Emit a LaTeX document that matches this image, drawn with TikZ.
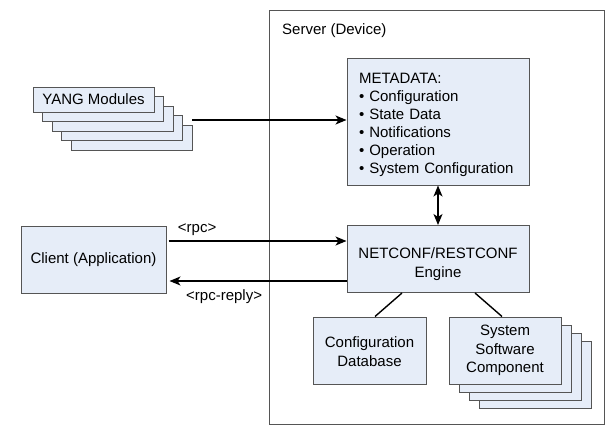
\documentclass[tikz,border=0pt]{standalone}
\usepackage{fontspec}
\setmainfont{Liberation Sans}
\usetikzlibrary{calc,arrows.meta}

\definecolor{boxfill}{HTML}{E6EDF8}
\definecolor{boxline}{HTML}{555555}

\begin{document}
\begin{tikzpicture}[x=1pt, y=-1pt, >={Stealth[length=11pt, width=9pt, inset=3pt]},
  every label/.style={font=\fontsize{15}{18}\selectfont, inner sep=0pt},
  box/.style={draw=boxline, fill=boxfill, line width=1pt, align=center,
    inner sep=0pt, font=\fontsize{15}{18}\selectfont},
  link/.style={line width=1.4pt}]

\useasboundingbox (0,0) rectangle (615,434);

% server frame
\node [draw=boxline, line width=1pt, minimum width=335pt, minimum height=414pt] (server) at (436.5,217) {};
\node [every label, anchor=west] (server-label) at (282,31) {Server (Device)};

% YANG module stack
\foreach \k in {4,3,2,1}
  \node [box, minimum width=121pt, minimum height=25pt] (yang-\k) at (93.5+\k*9.5, 99.5+\k*9.5) {};
\node [box, minimum width=121pt, minimum height=25pt] (yang-0) at (93.5,99.5) {YANG Modules};

% server contents
\node [box, minimum width=182pt, minimum height=127pt, text width=158pt, align=left] (meta) at (438,121.5)
  {\rule{0pt}{17pt}METADATA:\\ \textbullet{} Configuration\\ \textbullet{} State Data\\ \textbullet{} Notifications\\
   \textbullet{} Operation\\ \textbullet{} System Configuration};
\node [box, minimum width=182pt, minimum height=67pt, font=\fontsize{15}{19.5}\selectfont] (engine) at (438,259)
  {\rule{0pt}{21pt}NETCONF/RESTCONF\\Engine};
\node [box, minimum width=113pt, minimum height=67pt, font=\fontsize{15}{19}\selectfont] (db) at (369.5,350.5)
  {\rule{0pt}{14pt}Configuration\\Database};

\foreach \k in {3,2,1}
  \node [box, minimum width=112pt, minimum height=67pt] (ssc-\k) at (505+\k*10, 350.5+\k*8.3) {};
\node [box, minimum width=112pt, minimum height=67pt, font=\fontsize{15}{18.5}\selectfont] (ssc-0) at (505,350.5)
  {System\\Software\\Component};

% client
\node [box, minimum width=145pt, minimum height=67pt] (client) at (93.5,259.5) {Client (Application)};

% connectors
\coordinate (yang-out) at (192,120);
\path (0,241) coordinate (rpc-y) (0,281) coordinate (reply-y);

\draw [->, link] (yang-out) -- (yang-out -| meta.west);
\draw [<->, link] (meta.south) -- (engine.north);

\draw [->, link, shorten <=2pt] (client.east |- rpc-y) -- (engine.west |- rpc-y)
  node [every label, above=5pt, pos=0.17] {<rpc>};
\draw [->, link, shorten >=3pt] (engine.west |- reply-y) -- (client.east |- reply-y)
  node [every label, below=8pt, pos=0.68] {<rpc-reply>};

\draw [link] ([xshift=-36pt]engine.south) -- ([xshift=5.5pt]db.north);
\draw [link] ([xshift=37pt]engine.south) -- ([xshift=-3pt]ssc-0.north);

\end{tikzpicture}
\end{document}
